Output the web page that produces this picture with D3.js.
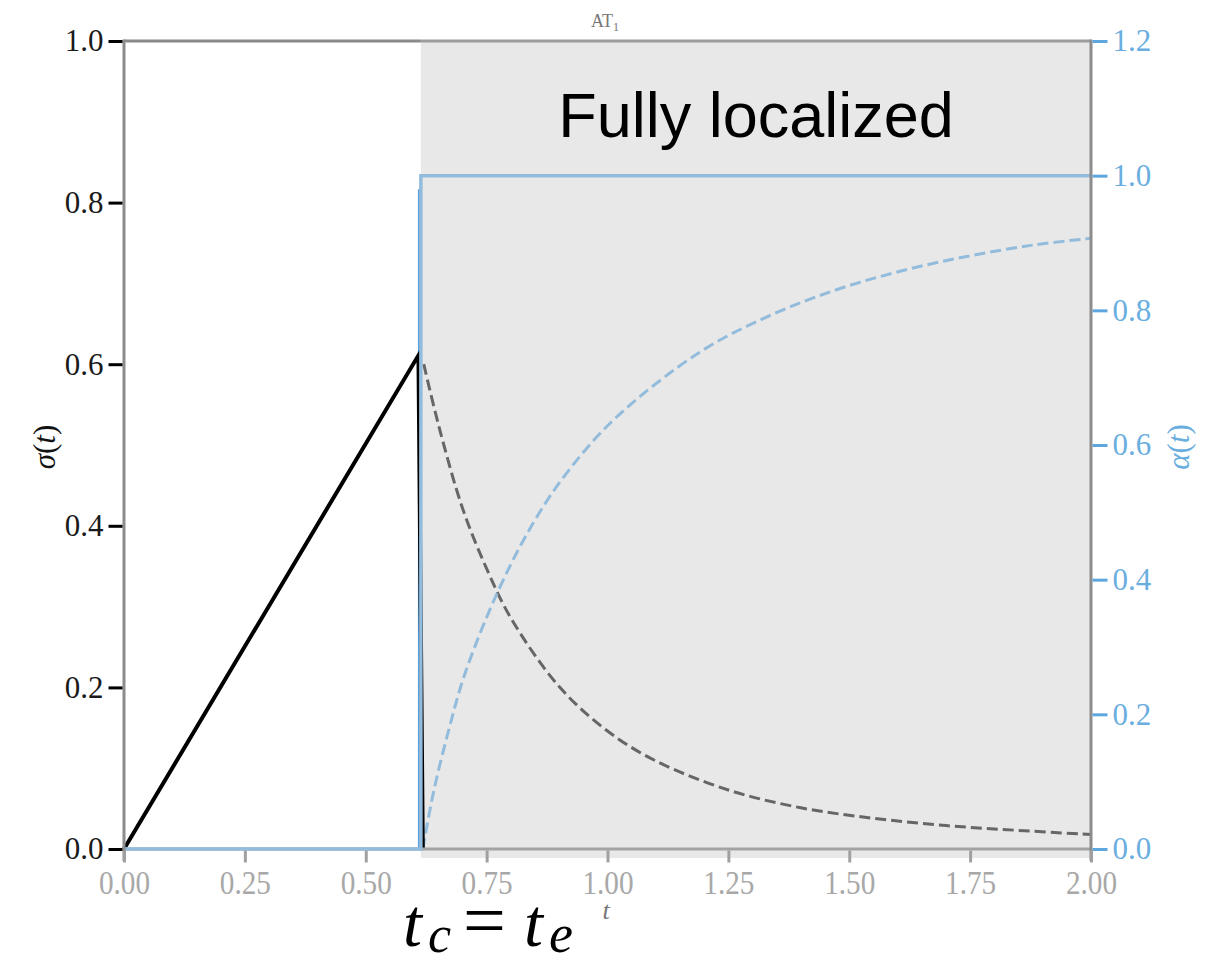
<!DOCTYPE html>
<html>
<head>
<meta charset="utf-8">
<script src="https://cdn.jsdelivr.net/npm/d3@7"></script>
<style>
  body { margin: 0; background: #fff; }
  svg { display: block; }
  .serif { font-family: "Liberation Serif", "DejaVu Serif", serif; }
</style>
</head>
<body>
<svg id="chart" width="1212" height="958"></svg>
<script>
// ========= data =========
const xTicks = [0, 0.25, 0.5, 0.75, 1.0, 1.25, 1.5, 1.75, 2.0];
const leftTicks = [0, 0.2, 0.4, 0.6, 0.8, 1.0];
const rightTicks = [0, 0.2, 0.4, 0.6, 0.8, 1.0, 1.2];

// localized region starts here
const shadeRange = [0.614, 2.0];

// sigma(t), solid: linear loading then sudden drop
const sigmaSolidT = [0, 0.609, 0.618];
const sigmaSolid  = [0, 0.611, 0];

// sigma(t), dashed decay
const sigmaDecayT = [0.62, 0.65, 0.70, 0.75, 0.80, 0.90, 1.0, 1.1, 1.25, 1.4, 1.55, 1.7, 1.85, 2.0];
const sigmaDecay  = [0.600, 0.526, 0.422, 0.347, 0.286, 0.201, 0.146, 0.109, 0.073, 0.051, 0.038, 0.029, 0.023, 0.018];

// alpha(t), solid step
const alphaStepT = [0, 0.614, 0.614, 2.0];
const alphaStep  = [0, 0, 1.0, 1.0];

// alpha(t), dashed rise
const alphaRiseT = [0.618, 0.64, 0.671, 0.705, 0.773, 0.843, 0.912, 1.015, 1.191, 1.329, 1.467, 1.605, 1.743, 1.881, 2.0];
const alphaRise  = [0, 0.084, 0.175, 0.260, 0.382, 0.480, 0.555, 0.639, 0.738, 0.790, 0.829, 0.858, 0.880, 0.897, 0.907];

// ========= svg =========
const svg = d3.select("#chart");
const margin = { top: 41, left: 124, right: 121, bottom: 109 };
const width = +svg.attr("width");
const height = +svg.attr("height");
const x0 = margin.left, x1 = width - margin.right;
const y0 = height - margin.bottom, y1 = margin.top;

const x = d3.scaleLinear().domain([0, 2]).range([x0, x1]);
const yL = d3.scaleLinear().domain([0, 1]).range([y0, y1]);
const yR = d3.scaleLinear().domain([0, 1.2]).range([y0, y1]);

const zip = (a, b) => a.map((t, i) => [t, b[i]]);

// shaded region
svg.append("rect")
    .attr("x", x(shadeRange[0]))
    .attr("y", y1)
    .attr("width", x(shadeRange[1]) - x(shadeRange[0]))
    .attr("height", y0 - y1 + 9)
    .attr("fill", "#e8e8e8");

svg.append("text")
    .attr("x", 756)
    .attr("y", 137)
    .attr("text-anchor", "middle")
    .attr("font-family", "'Liberation Sans', Arial, sans-serif")
    .attr("font-size", 63)
    .attr("fill", "#000")
    .text("Fully localized");

// ========= lines =========
const lineL = d3.line().x(d => x(d[0])).y(d => yL(d[1]));
const lineR = d3.line().x(d => x(d[0])).y(d => yR(d[1]));

svg.append("path")
    .attr("d", lineL.curve(d3.curveCatmullRom)(zip(sigmaDecayT, sigmaDecay)))
    .attr("fill", "none")
    .attr("stroke", "#666")
    .attr("stroke-width", 3)
    .attr("stroke-dasharray", "11,5");

svg.append("path")
    .attr("d", lineR.curve(d3.curveCatmullRom)(zip(alphaRiseT, alphaRise)))
    .attr("fill", "none")
    .attr("stroke", "#93bcdc")
    .attr("stroke-width", 3)
    .attr("stroke-dasharray", "11,5");

// saturated blue under the step
svg.append("line")
    .attr("x1", x(0.611)).attr("x2", x(0.611))
    .attr("y1", yR(0)).attr("y2", yR(0.98))
    .attr("stroke", "#5aa0dc")
    .attr("stroke-width", 3);

svg.append("path")
    .attr("d", d3.line().x(d => x(d[0])).y(d => yL(d[1]))(zip(sigmaSolidT, sigmaSolid)))
    .attr("fill", "none")
    .attr("stroke", "#000")
    .attr("stroke-width", 4);

// ========= axes / spines =========
svg.append("line").attr("x1", x0).attr("x2", x1).attr("y1", y0).attr("y2", y0)
    .attr("stroke", "#a3a3a3").attr("stroke-width", 3);
svg.append("line").attr("x1", x0).attr("x2", x(shadeRange[0])).attr("y1", y1).attr("y2", y1)
    .attr("stroke", "#8a8a8a").attr("stroke-width", 3);
svg.append("line").attr("x1", x(shadeRange[0])).attr("x2", x1).attr("y1", y1).attr("y2", y1)
    .attr("stroke", "#9c9c9c").attr("stroke-width", 3);

svg.append("path")
    .attr("d", lineR.curve(d3.curveLinear)(zip(alphaStepT, alphaStep)))
    .attr("fill", "none")
    .attr("stroke", "#93bbdb")
    .attr("stroke-width", 3.5);

svg.append("line").attr("x1", x0).attr("x2", x0).attr("y1", y1 - 1.5).attr("y2", y0 + 12)
    .attr("stroke", "#8c8c8c").attr("stroke-width", 3);
svg.append("line").attr("x1", x1).attr("x2", x1).attr("y1", y1 - 1.5).attr("y2", y0 + 12)
    .attr("stroke", "#8c8c8c").attr("stroke-width", 3);

// left axis
svg.append("g")
    .attr("transform", `translate(${x0 - 1.5},0)`)
    .call(d3.axisLeft(yL).tickValues(leftTicks).tickFormat(d3.format(".1f")).tickSize(14).tickPadding(5))
    .call(g => g.select(".domain").remove())
    .call(g => g.selectAll("line").attr("stroke", "#000").attr("stroke-width", 3))
    .call(g => g.selectAll("text")
        .attr("class", "serif")
        .attr("font-size", 31)
        .attr("fill", "#1a1a1a"));

// right axis
svg.append("g")
    .attr("transform", `translate(${x1 + 1.5},0)`)
    .call(d3.axisRight(yR).tickValues(rightTicks).tickFormat(d3.format(".1f")).tickSize(15).tickPadding(5))
    .call(g => g.select(".domain").remove())
    .call(g => g.selectAll("line").attr("stroke", "#5ea6de").attr("stroke-width", 3))
    .call(g => g.selectAll("text")
        .attr("class", "serif")
        .attr("font-size", 31)
        .attr("fill", "#6aaee0"));

// bottom axis
svg.append("g")
    .attr("transform", `translate(0,${y0 + 1.5})`)
    .call(d3.axisBottom(x).tickValues(xTicks).tickFormat(d3.format(".2f")).tickSize(12).tickPadding(7))
    .call(g => g.select(".domain").remove())
    .call(g => g.selectAll("line").attr("stroke", "#a0a0a0").attr("stroke-width", 3))
    .call(g => g.selectAll("text")
        .attr("class", "serif")
        .attr("font-size", 34)
        .attr("fill", "#a8a8a8")
        .attr("transform", "scale(0.86,1)"));

// ========= labels =========
svg.append("text")
    .attr("class", "serif")
    .attr("x", 605).attr("y", 27)
    .attr("text-anchor", "middle")
    .attr("font-size", 18)
    .attr("fill", "#777")
    .html('AT<tspan dy="4" font-size="12">1</tspan>');

svg.append("text")
    .attr("class", "serif")
    .attr("transform", "translate(55,447) rotate(-90)")
    .attr("text-anchor", "middle")
    .attr("font-size", 31)
    .attr("font-style", "italic")
    .attr("fill", "#111")
    .html('σ<tspan font-style="normal">(</tspan>t<tspan font-style="normal">)</tspan>');

svg.append("text")
    .attr("class", "serif")
    .attr("transform", "translate(1189,447) rotate(-90)")
    .attr("text-anchor", "middle")
    .attr("font-size", 31)
    .attr("font-style", "italic")
    .attr("fill", "#6aaee0")
    .html('α<tspan font-style="normal">(</tspan>t<tspan font-style="normal">)</tspan>');

svg.append("text")
    .attr("class", "serif")
    .attr("x", 606).attr("y", 919)
    .attr("text-anchor", "middle")
    .attr("font-size", 26)
    .attr("font-style", "italic")
    .attr("fill", "#777")
    .text("t");

// big label t_c = t_e
const big = svg.append("g")
    .attr("class", "serif")
    .attr("font-style", "italic")
    .attr("fill", "#000");
big.append("text").attr("x", 403).attr("y", 946).attr("font-size", 68).text("t");
big.append("text").attr("x", 428).attr("y", 952).attr("font-size", 52).text("c");
big.append("text").attr("x", 463).attr("y", 946).attr("font-size", 76).attr("font-style", "normal").text("=");
big.append("text").attr("x", 524).attr("y", 946).attr("font-size", 68).text("t");
big.append("text").attr("x", 549).attr("y", 952).attr("font-size", 54).text("e");
</script>
</body>
</html>
